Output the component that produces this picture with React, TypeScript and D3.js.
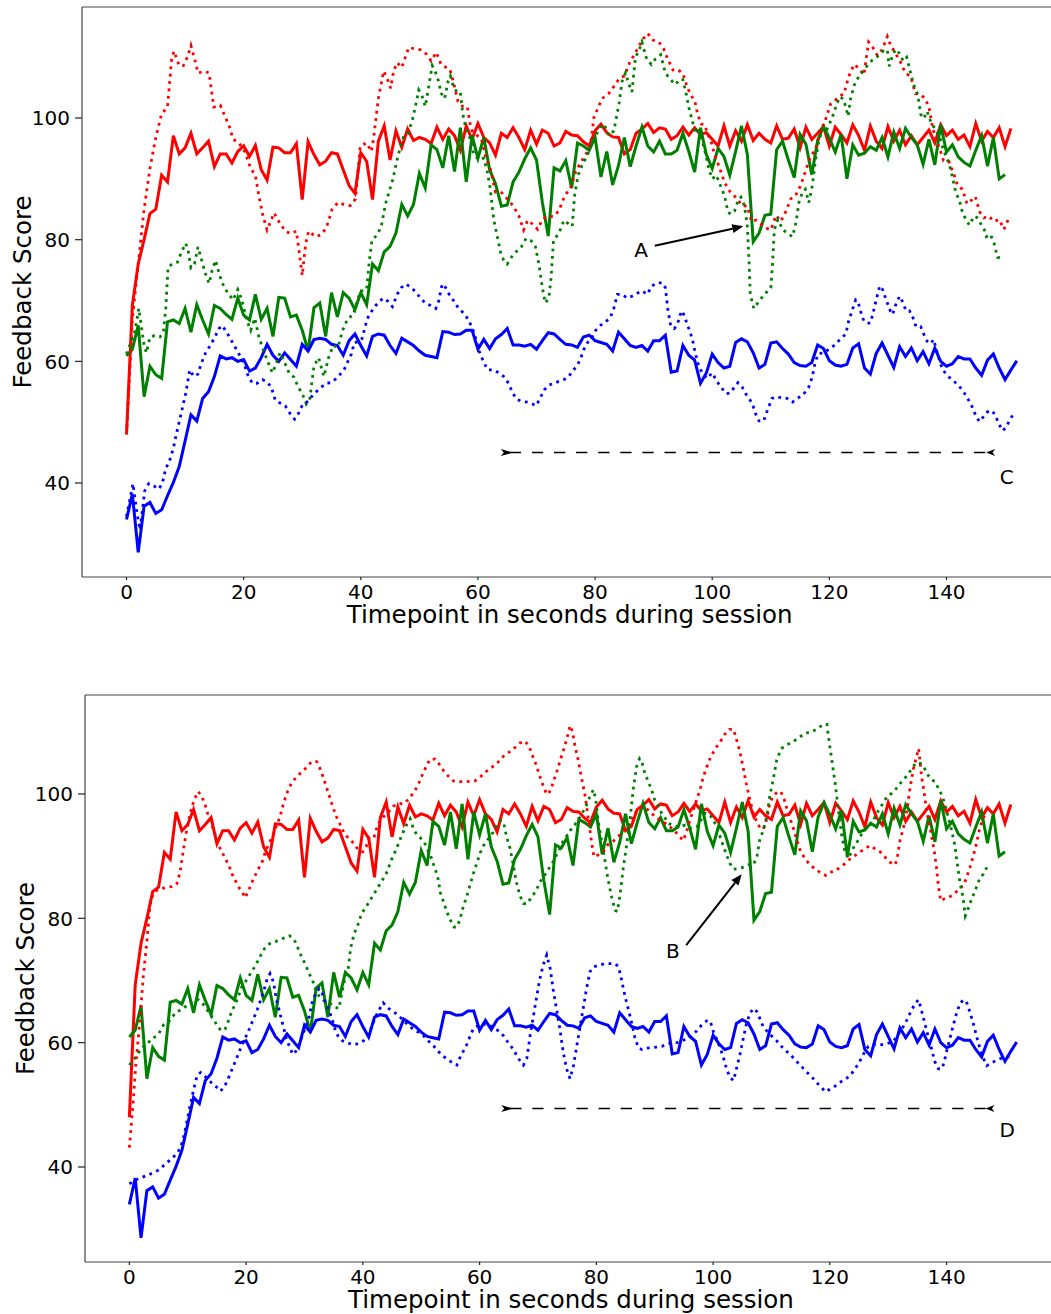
import React from "react";
import * as d3 from "d3";

// ticks and labels
const timeTicks = [0, 20, 40, 60, 80, 100, 120, 140];
const scoreTicks = [40, 60, 80, 100];
const xLabel = "Timepoint in seconds during session";
const yLabel = "Feedback Score";

// solid series, one value per second (same in both panels)
const redSolid = [
  48.0, 69.3, 76.0, 80.0, 84.3, 85.0, 90.6, 89.5, 97.1, 94.1,
  95.1, 97.5, 94.1, 95.1, 96.2, 92.0, 94.1, 94.1, 92.6, 94.5,
  95.4, 93.7, 95.5, 91.5, 89.8, 95.2, 95.1, 94.3, 94.3, 95.8,
  86.6, 96.1, 94.0, 92.3, 92.9, 94.3, 94.1, 91.5, 88.9, 87.6,
  94.3, 92.9, 86.6, 96.2, 98.7, 93.1, 97.9, 95.2, 98.2, 96.3,
  96.8, 96.5, 95.8, 98.5, 96.5, 98.2, 97.1, 94.7, 98.7, 96.5,
  99.1, 96.8, 95.9, 93.9, 97.5, 96.8, 98.4, 96.8, 94.8, 98.0,
  95.7, 98.0, 97.5, 95.4, 95.9, 97.8, 97.2, 97.1, 96.1, 95.4,
  97.9, 99.0, 97.6, 96.9, 96.8, 94.1, 94.8, 97.5, 98.2, 99.1,
  97.6, 98.4, 98.2, 96.5, 97.1, 98.5, 97.2, 98.4, 97.3, 97.6,
  96.5, 95.4, 98.7, 95.4, 97.9, 96.2, 98.9, 96.3, 97.5, 96.5,
  95.9, 98.7, 96.5, 96.7, 98.2, 95.1, 98.5, 96.5, 97.5, 98.6,
  95.4, 98.5, 97.3, 95.9, 98.9, 97.1, 94.7, 98.7, 96.2, 95.0,
  98.6, 96.2, 98.0, 95.6, 97.1, 95.6, 96.8, 98.0, 95.9, 98.9,
  97.1, 98.0, 96.5, 97.2, 95.3, 99.1, 96.2, 97.8, 96.8, 98.4,
  95.3, 98.3,
];

const greenSolid = [
  60.9, 62.0, 65.9, 54.2, 59.2, 57.8, 57.2, 66.5, 66.8, 66.2,
  68.7, 64.8, 69.3, 66.8, 64.5, 69.2, 68.7, 67.7, 66.9, 70.4,
  67.6, 66.8, 71.0, 66.9, 68.7, 64.1, 70.5, 70.4, 67.3, 67.6,
  65.1, 61.7, 68.8, 69.6, 64.1, 71.3, 67.3, 71.3, 70.4, 68.5,
  71.3, 69.3, 76.0, 74.9, 78.0, 78.9, 81.1, 85.8, 83.9, 85.8,
  90.9, 88.5, 95.6, 94.8, 91.8, 97.1, 91.2, 98.4, 89.5, 97.1,
  93.4, 96.8, 91.5, 89.2, 85.5, 85.7, 89.5, 91.1, 93.3, 95.1,
  93.1, 86.1, 80.6, 91.8, 91.3, 93.0, 88.5, 95.9, 95.4, 94.7,
  96.8, 90.3, 94.5, 89.0, 92.2, 96.8, 92.0, 95.4, 98.5, 95.4,
  94.4, 96.2, 94.1, 94.1, 94.7, 97.5, 94.5, 91.1, 98.4, 94.0,
  91.7, 95.0, 93.7, 90.6, 94.5, 98.7, 94.0, 79.7, 81.1, 84.0,
  84.2, 94.8, 96.2, 93.1, 90.2, 97.3, 95.7, 90.7, 96.3, 98.6,
  96.7, 94.4, 97.3, 90.0, 95.6, 93.9, 94.2, 95.3, 94.7, 96.8,
  93.6, 97.7, 95.0, 98.3, 96.8, 95.6, 92.4, 96.5, 92.3, 98.9,
  94.4, 95.6, 93.6, 92.7, 92.1, 94.7, 97.1, 92.1, 96.8, 90.0,
  90.7,
];

const blueSolid = [
  34.0, 38.2, 28.6, 36.2, 36.8, 35.0, 35.6, 37.9, 40.1, 42.7,
  46.9, 51.2, 50.2, 53.9, 55.0, 57.5, 60.9, 60.4, 60.6, 60.0,
  60.3, 58.4, 58.9, 60.6, 62.8, 61.0, 60.0, 61.4, 60.3, 59.2,
  62.8, 61.7, 63.6, 63.8, 63.6, 62.8, 62.6, 61.0, 63.4, 64.5,
  62.6, 60.9, 64.1, 64.5, 64.3, 62.6, 61.3, 63.8, 63.2, 62.6,
  61.7, 61.0, 60.8, 60.6, 64.9, 64.8, 64.4, 64.5, 65.1, 65.1,
  62.0, 63.6, 62.1, 63.7, 64.4, 65.4, 62.7, 62.7, 62.5, 62.8,
  62.0, 63.4, 64.7, 64.5, 63.6, 62.8, 62.7, 62.3, 64.0, 64.3,
  63.4, 63.1, 62.8, 61.7, 64.8, 63.7, 62.6, 62.3, 62.6, 61.7,
  63.4, 63.4, 64.3, 58.2, 58.4, 62.6, 61.0, 60.2, 56.4, 58.1,
  61.2, 59.8, 58.9, 59.2, 63.1, 63.7, 63.2, 61.4, 58.9, 59.5,
  63.0, 63.2, 62.1, 61.2, 59.8, 59.3, 59.2, 59.8, 62.7, 62.1,
  60.1, 59.4, 59.2, 59.5, 62.2, 62.9, 58.9, 57.9, 61.3, 63.0,
  61.0, 59.0, 62.4, 60.8, 62.2, 60.1, 61.6, 59.6, 62.2, 60.0,
  59.2, 59.6, 60.8, 60.4, 60.4, 58.9, 57.7, 60.2, 61.2, 58.9,
  57.0, 58.6, 60.1,
];

// dotted series, [second, score] at the visible vertices
const redDottedTop: [number, number][] = [
  [0, 48], [1, 67], [2, 76], [3, 85], [4, 91.7], [5, 96.8], [6, 100.7], [7, 101.8], [7.7, 109.7], [8.1, 111],
  [9, 108.6], [9.7, 108.6], [10.4, 110], [11, 111.9], [11.8, 109.1], [12.2, 107.4], [13.3, 107.7], [14.1, 107.4],
  [14.9, 101.8], [16, 102.1], [16.9, 100.1], [17.6, 98.5], [18.2, 96.5], [19.2, 95.9], [20.3, 94.3], [21.2, 91.7],
  [22, 90.6], [22.6, 87.2], [23.3, 83.9], [24, 81.6], [25.2, 84.4], [26, 83], [27.1, 81.4], [28, 81], [29, 81.4],
  [29.6, 77.1], [30, 74.1], [30.6, 79.4], [31.1, 81.4], [32.3, 80.5], [33.2, 80.8], [34.1, 81.9], [35.1, 85],
  [36.1, 86.1], [37.1, 85.8], [38.2, 85.6], [39.1, 86.7], [39.9, 95.4], [41, 95.9], [41.8, 94.5], [42.2, 96.8],
  [43, 103.2], [43.9, 107.7], [44.6, 106.3], [45.1, 104.9], [45.6, 107.7], [46.2, 109.1], [47, 108.3], [47.6, 110],
  [48.2, 111.6], [49.1, 111.4], [50.2, 111.2], [51.2, 110.5], [52, 109.4], [52.9, 110.8], [53.7, 108.8], [54.6, 108.3],
  [55.2, 108], [55.8, 106], [56.6, 102.7], [57.5, 101.8], [58.2, 101.8], [58.6, 99.3], [59, 97.9], [59.8, 97.2],
  [60.6, 96.5], [61.3, 93.7], [62.1, 91.7], [63, 87.8], [64.1, 87.7], [65, 86.7], [66, 85.6], [67, 83.9], [67.8, 81.6],
  [68.5, 83.2], [69.4, 82.5], [70.2, 81.7], [71, 83.3], [71.9, 83.9], [72.8, 83.8], [73.8, 84.7], [74.8, 87.2],
  [75.8, 88.5], [76.7, 91.2], [77.5, 92.6], [78.4, 94], [79.2, 95.4], [79.8, 100.1], [81.2, 103.2], [82.4, 104.1],
  [83.3, 105.3], [84.2, 106.6], [85, 106.9], [85.9, 109.1], [86.7, 110.4], [87.6, 112], [88.2, 113], [89, 113.9],
  [89.9, 112.8], [90.9, 112.5], [91.7, 111.4], [92.4, 109.7], [93.3, 107.9], [94.1, 108], [95, 107.3], [95.7, 105.2],
  [96.3, 103.8], [97, 102.9], [97.5, 100.7], [98.1, 99], [98.7, 98.9], [99.3, 97.2], [99.8, 96.2], [100.4, 94],
  [101.3, 91.7], [102.1, 89.4], [103.1, 87.8], [104.3, 86.7], [105.1, 85.6], [106, 85.5], [106.7, 83], [107.5, 83.2],
  [108.4, 82.5], [109.2, 81.9], [110, 81.6], [110.9, 84], [111.7, 83], [112.6, 84.7], [113.4, 86.7], [114.2, 87.2],
  [115.1, 88.9], [115.9, 91.2], [116.8, 93.7], [117.6, 94.8], [118.5, 97.8], [119.3, 99.6], [120.2, 102.3], [121, 102.9],
  [121.6, 103.5], [122.5, 104], [123.3, 106.8], [124.2, 108.8], [125, 108.2], [125.9, 107.1], [126.7, 112.5],
  [127.3, 111.8], [128.2, 110.3], [129, 111.2], [129.9, 113.4], [130.4, 112.1], [131.3, 110.6], [132.1, 109.3],
  [133, 107.4], [133.9, 106.8], [134.7, 104], [135.6, 103.9], [136.4, 103.1], [137, 101.8], [137.6, 98.6],
  [138.1, 96.8], [138.7, 95.3], [139.5, 93], [140.4, 92.9], [141.3, 90.6], [141.9, 88.9], [142.7, 88.3], [143.5, 85.9],
  [144.4, 86.6], [144.9, 87.1], [145.7, 84.5], [146.4, 83.6], [147.2, 83.9], [148.1, 83], [149, 83.3], [149.8, 81.7],
  [150.4, 83], [150.8, 83.9],
];

const greenDottedTop: [number, number][] = [
  [0, 61.2], [1.4, 64.8], [2.1, 68.7], [3, 62.6], [3.4, 61.4], [4, 64], [4.8, 64.2], [5.7, 64], [6.3, 64.8], [6.7, 68.7],
  [7.1, 75.5], [7.8, 76], [8.7, 76.3], [9.3, 77.8], [10.1, 79.4], [10.5, 78.3], [11, 75.4], [11.6, 76], [12.2, 78.8],
  [12.7, 77.1], [13.4, 74.6], [14.1, 72.8], [14.6, 74.9], [15.2, 76.6], [15.9, 74.1], [16.7, 72.1], [17.5, 71],
  [18.2, 70.1], [19, 71.8], [19.7, 70.1], [20.5, 66.8], [21.2, 65.1], [21.9, 67.1], [22.6, 64], [23.3, 62], [24.1, 60],
  [24.9, 58.1], [25.4, 59.2], [26.2, 61.4], [27, 59.8], [27.8, 58], [28.6, 57.4], [29.3, 55.8], [30, 54.7], [30.7, 53],
  [31.3, 53.9], [32, 59.2], [32.8, 60.6], [33.7, 57.5], [34.5, 60.6], [35.3, 62.6], [36.1, 62.3], [36.9, 65.1],
  [37.8, 67.1], [38.7, 67.6], [39.9, 71.5], [41, 71.8], [41.4, 76], [41.9, 79.9], [42.8, 80.8], [43.5, 82.2],
  [44.2, 85.8], [45, 88.4], [45.5, 90], [46.1, 92.8], [46.7, 95], [47.3, 96.9], [48, 97.4], [48.8, 99.6], [49.3, 101.8],
  [49.9, 104.6], [50.5, 103.5], [51, 101.9], [51.6, 105.2], [52.2, 108.6], [52.8, 107.4], [53.3, 106], [53.7, 104.1],
  [54.3, 103.2], [54.9, 106], [55.3, 106.9], [55.9, 104.9], [56.6, 104.1], [57, 104.2], [57.4, 100.7], [57.9, 98.5],
  [58.6, 96.8], [59.3, 94], [60.2, 93.1], [61, 93.4], [61.6, 91.2], [62.1, 88.4], [62.7, 83.3], [63.3, 80.5],
  [63.9, 77.8], [64.4, 76.6], [65, 76], [65.7, 77.1], [66.5, 78], [67.4, 78.8], [68.2, 80.2], [69.1, 79.8], [69.8, 78.9],
  [70.4, 76], [71, 72.1], [71.5, 69.6], [72.1, 70.4], [72.5, 73.8], [72.9, 79.9], [73.8, 81], [74.7, 83.2], [75.5, 82.6],
  [76.1, 82.2], [76.5, 87.2], [77.1, 90.6], [77.8, 92.3], [78.6, 93.7], [79.5, 95.9], [80.2, 97.3], [80.9, 98.5],
  [81.5, 99], [82.4, 97.1], [83.2, 97.9], [84.1, 102.4], [84.6, 106], [85.2, 107.4], [85.8, 105.5], [86.3, 104.3],
  [86.9, 110], [87.5, 111.1], [88, 112.5], [88.8, 109.7], [89.6, 108.8], [90.3, 109.7], [91.2, 110.4], [92, 107.4],
  [92.9, 106.3], [93.7, 105.5], [94.5, 106.4], [95, 106.3], [95.6, 103.8], [96.1, 101.3], [96.6, 99.6], [97.1, 97.4],
  [97.7, 98.5], [98.3, 96.2], [98.9, 94], [99.4, 91.7], [100, 90], [100.7, 90.6], [101.4, 88.9], [102.1, 87.2],
  [102.7, 84.5], [103.2, 84.2], [103.8, 84.7], [104.4, 86.4], [104.9, 87], [105.5, 85.6], [106, 82.2], [106.3, 76],
  [106.5, 71], [107.1, 68.7], [108, 69.9], [108.9, 71], [110, 72.1], [110.3, 76], [110.6, 81.6], [111.2, 83.3],
  [112.1, 81.6], [112.9, 81], [113.7, 80.5], [114.3, 82.8], [114.8, 86.1], [115.4, 87.8], [115.9, 88.3], [116.5, 86.1],
  [117.1, 88.9], [117.6, 92.9], [118.2, 96.2], [118.9, 98.6], [119.6, 98.2], [120.5, 100.1], [121.3, 102.4],
  [121.8, 103.5], [122.4, 103.1], [122.8, 101.8], [123.2, 100.3], [123.6, 103], [124.2, 105.3], [125, 106.8],
  [125.8, 107.7], [126.6, 108.8], [127.3, 109.5], [128.1, 110], [128.7, 110.6], [129.4, 111.2], [129.9, 111.2],
  [130.2, 108.5], [130.7, 110], [131.3, 111.3], [132, 110.6], [132.6, 109.4], [133.2, 110], [133.6, 108.5], [134, 106.8],
  [134.5, 105.2], [135.1, 103.8], [135.6, 100.6], [136.1, 99.9], [136.7, 101.1], [137.3, 99.4], [138.1, 98.1],
  [138.8, 97], [139.3, 95.3], [139.8, 94], [140.5, 92.3], [141, 90.3], [141.6, 87.7], [142.2, 86.5], [142.7, 84.6],
  [143.3, 83.3], [143.9, 82.4], [144.5, 83.5], [145, 83.9], [145.8, 82.7], [146.4, 81.8], [146.8, 80.5], [147.5, 80.9],
  [148.1, 79.5], [148.7, 77.1], [149.3, 77],
];

const blueDottedTop: [number, number][] = [
  [0, 34.5], [0.7, 37.9], [1.1, 39.9], [1.7, 35.6], [2.3, 32.3], [2.8, 36.2], [3.1, 38.7], [3.8, 39.9], [4.7, 39.5],
  [5.5, 39], [6.1, 39.9], [6.7, 42.4], [7.3, 43.5], [8, 45.7], [8.5, 48], [9.3, 51.3], [10.1, 54.7], [10.8, 58.6],
  [11.5, 57.5], [12.2, 57.9], [12.7, 59.5], [13.5, 61.4], [14.3, 62.6], [15.1, 64], [15.8, 65.4], [16.3, 65.9],
  [17.1, 64.8], [17.8, 63.6], [18.4, 62.6], [19.2, 61.2], [20, 59.8], [20.8, 57.5], [21.5, 56.4], [22.3, 56.4],
  [23.2, 57], [23.9, 56.7], [24.7, 55.8], [25.4, 53.6], [26.3, 53.1], [27.1, 52.7], [28, 51.3], [28.7, 50.5],
  [29.4, 51.5], [30.1, 53], [30.8, 53.3], [31.6, 54.2], [32.4, 55], [33.2, 55.7], [34.1, 56.4], [34.9, 56.5],
  [35.7, 57.1], [36.4, 57.8], [37.1, 58.5], [37.8, 60], [38.4, 61.2], [38.9, 63.1], [39.7, 63.2], [40.2, 63.7],
  [41.1, 67], [42.2, 68.8], [43.2, 69.9], [43.9, 70.4], [44.6, 69.9], [45.4, 69], [46.2, 71], [46.9, 72.1], [47.7, 72.7],
  [48.5, 72.2], [49.3, 71.5], [50.2, 70.4], [51, 69.6], [51.9, 69.2], [52.8, 68.7], [53.3, 69.9], [53.9, 72.7],
  [54.5, 72.1], [55.1, 71], [55.9, 69.9], [56.7, 68.7], [57.6, 67.9], [58.4, 66.8], [59.3, 64.8], [60.2, 61.7],
  [61, 59.8], [61.7, 58.6], [62.7, 58.6], [63.6, 58.1], [64.4, 57.5], [65.3, 56.3], [65.9, 54.8], [66.7, 53.7],
  [67.6, 53.4], [68.4, 53.3], [69.3, 53], [69.9, 52.7], [70.5, 53.7], [71.3, 55.3], [72.1, 56.1], [73, 56.4],
  [73.8, 56.7], [74.7, 57], [75.5, 57.5], [76.2, 58.5], [76.9, 59.2], [77.5, 60.4], [78.1, 62], [78.8, 63.2], [79.5, 64],
  [80.1, 65.1], [80.9, 65.9], [81.8, 66.5], [82.6, 67.2], [83.2, 68.7], [83.8, 71], [84.6, 71], [85.5, 70.4],
  [86.3, 70.7], [87.2, 71.2], [88, 71.6], [88.9, 71], [89.7, 72.4], [90.6, 72.9], [91.5, 72.9], [92, 72.1], [92.4, 68.7],
  [92.9, 65.9], [93.5, 65.4], [94, 65.9], [94.5, 67.6], [94.9, 68.3], [95.4, 67], [96, 65.4], [96.6, 63.7], [97.1, 61.4],
  [97.7, 59.2], [98.3, 58.1], [99.1, 57.2], [100, 58.1], [100.8, 56.7], [101.7, 55.5], [102.4, 54.7], [103.1, 54.8],
  [103.8, 55.8], [104.4, 56.5], [105.1, 55.8], [105.7, 54.7], [106.3, 53.9], [106.9, 52.9], [107.4, 51.4], [108, 50.2],
  [108.8, 50.2], [109.4, 51.9], [110.2, 53.9], [111.1, 54.2], [112, 53.9], [112.8, 53.9], [113.7, 53.3], [114.5, 53.9],
  [115.4, 54.4], [115.9, 55], [116.5, 55.8], [117.1, 57.5], [117.6, 60], [118.2, 61.3], [119.1, 61.4], [119.9, 62],
  [120.8, 62.6], [121.6, 63.4], [122.8, 64.5], [123.3, 66.6], [123.9, 68.4], [124.5, 70.1], [124.9, 69.8], [125.3, 68.3],
  [125.9, 66.6], [126.5, 66.3], [127, 66.3], [127.4, 67.7], [128, 70.1], [128.6, 72.4], [129.1, 71.8], [129.7, 70.1],
  [130.4, 68.3], [130.8, 67.7], [131.4, 69.5], [132, 70.7], [132.5, 69.8], [133.1, 68.3], [133.7, 68.3], [134.3, 67.1],
  [134.8, 65.7], [135.6, 65.7], [136.1, 64.5], [136.7, 63.3], [137.3, 62.9], [137.8, 63.6], [138.5, 61.1], [139.3, 58.7],
  [140.1, 57.7], [140.9, 57], [141.8, 56.3], [142.7, 55.3], [143.5, 54.1], [144.4, 52.5], [144.9, 51.3], [145.6, 50.1],
  [146.4, 51], [147, 51.7], [147.8, 51.9], [148.4, 51], [148.9, 49.8], [149.6, 48.6], [150.2, 49.2], [150.8, 50.4],
  [151.5, 51.4],
];

const redDottedBottom: [number, number][] = [
  [0, 43.1], [0.6, 49.8], [1.1, 56.4], [1.7, 62.5], [2.4, 70.8], [3, 76.3], [3.5, 81.9], [4.1, 84.1], [5, 84.7],
  [6.1, 84.9], [7.2, 85.1], [8.1, 85.5], [8.7, 87.4], [9.2, 90.7], [9.8, 94.1], [10.4, 96.8], [11.1, 99.1], [11.8, 100.4],
  [12.4, 99.6], [13, 98.2], [13.5, 96.6], [14.1, 95.2], [14.7, 93.4], [15.2, 91.9], [15.9, 90.6], [16.5, 89.5],
  [17.1, 88.4], [17.6, 87.1], [18.2, 86], [18.8, 84.9], [19.4, 84.1], [19.8, 83.3], [20.4, 84.4], [21, 85.8], [21.6, 87],
  [22.2, 88.1], [22.8, 89.2], [23.3, 90.7], [23.9, 92], [24.5, 93.1], [25.1, 94.6], [25.8, 96.3], [26.4, 98.5],
  [27.1, 100.4], [27.8, 101.8], [28.7, 102.8], [29.5, 103.5], [30.4, 104.3], [31.2, 105.2], [32.1, 105.2], [32.7, 104],
  [33.2, 102.7], [33.8, 101], [34.4, 99.3], [34.9, 97.8], [35.5, 96.3], [36.1, 95.1], [36.9, 93.5], [37.8, 92.7],
  [38.6, 91.9], [39.2, 91], [40, 90.7], [40.5, 91.3], [41.1, 93], [41.9, 93], [42.6, 95.2], [43.5, 96.3], [44.4, 97.1],
  [45.2, 98], [46.1, 98.5], [46.9, 98.4], [47.8, 99.1], [48.6, 100.1], [49.4, 101.3], [50.1, 102.9], [50.8, 104.3],
  [51.5, 105.6], [52.4, 105.6], [53, 104.9], [53.8, 103.8], [54.6, 102.9], [55.5, 102.1], [56.6, 102], [57.9, 102],
  [59.2, 102.1], [60.1, 102.7], [60.9, 103.5], [61.8, 104], [62.6, 104.7], [63.5, 105.4], [64.3, 106.3], [65.2, 106.8],
  [66.1, 107.5], [66.9, 108.2], [67.8, 108.5], [68.5, 107.6], [69, 106.3], [69.6, 104.9], [70.2, 103.2], [70.7, 101.8],
  [71.3, 100.4], [71.7, 99.9], [72.2, 100.7], [72.7, 102.1], [73.3, 103.8], [73.9, 105.7], [74.5, 107.4], [75, 109.1],
  [75.5, 111], [75.9, 110.1], [76.3, 107.9], [76.9, 105.4], [77.5, 102.4], [78.1, 99.6], [78.5, 96.8], [78.9, 94.2],
  [79.2, 92.1], [79.6, 89.9], [80.3, 90.2], [81.2, 90.7], [82, 91.9], [82.9, 92.4], [83.8, 93.2], [84.6, 94.1],
  [85.5, 94.7], [86.3, 96.3], [87.2, 97.8], [88.1, 97.9], [88.9, 97.4], [89.8, 96.6], [90.6, 96], [91.5, 95.5],
  [92.3, 94.9], [93.2, 94.3], [94, 93.4], [94.9, 92.5], [95.5, 94.1], [96, 95.7], [96.6, 97.4], [97.2, 99.1],
  [97.8, 100.8], [98.3, 102.7], [98.9, 104.3], [99.6, 106], [100.4, 107.3], [101.3, 108.5], [102, 109.6], [102.8, 110.4],
  [103.5, 110.4], [104, 108.8], [104.6, 106.8], [105.2, 104], [105.7, 101.6], [106.3, 99.1], [106.9, 96.8], [107.5, 95.5],
  [108, 94.6], [108.6, 94.3], [109.2, 96], [109.7, 98.5], [110.3, 99.7], [111, 100.3], [111.6, 100.4], [112.2, 99.1],
  [112.7, 97.4], [113.3, 95.7], [113.9, 94.1], [114.4, 92.4], [115, 90.7], [115.9, 89.4], [116.7, 88.5], [117.6, 87.9],
  [118.4, 87.3], [119.3, 86.9], [120, 87.4], [120.9, 87.6], [121.7, 88.2], [122.6, 88.8], [123.5, 89.6], [124.3, 90.1],
  [125.2, 90.7], [126, 91.2], [126.9, 91.7], [127.7, 91.2], [128.6, 90.7], [129.4, 89.9], [130.3, 89], [131.2, 88.6],
  [131.6, 90.1], [132, 92.4], [132.6, 94.6], [133.2, 97.3], [133.7, 100.7], [134.3, 104], [134.9, 106.2], [135.2, 107.3],
  [135.4, 105.7], [135.7, 102.9], [136, 101.2], [136.5, 97.9], [136.9, 95.7], [137.4, 93.5], [138, 90.1], [138.3, 87.9],
  [138.6, 85.2], [139, 82.8], [139.7, 83.2], [140.6, 83.5], [141.2, 83.8], [141.7, 84.3], [142.3, 84.9], [142.9, 85.3],
  [143.4, 86.5], [144, 88.2], [144.6, 90.1], [145.2, 92.4], [145.7, 94.6], [146.3, 96.2], [146.7, 96.7],
];

const greenDottedBottom: [number, number][] = [
  [0, 56.4], [0.7, 57.2], [1.4, 58.1], [2.1, 59.2], [3, 59.7], [3.8, 60.6], [4.7, 61.1], [5.2, 61.7], [5.8, 62.8],
  [6.7, 63.3], [7.4, 64.2], [8.1, 65], [9, 65.3], [9.6, 65.8], [10.4, 66.4], [11.2, 66.9], [11.8, 66.9], [12.4, 66.4],
  [13, 65.8], [13.5, 65], [14.1, 64.2], [14.7, 63.3], [15.2, 62.5], [15.8, 61.9], [16.4, 62.2], [17, 63.6], [17.5, 65],
  [18.1, 66.1], [18.7, 67.5], [19.2, 68.9], [19.8, 69.7], [20.4, 70.5], [20.9, 71.4], [21.5, 72.2], [22.1, 73.3],
  [22.7, 74.4], [23.2, 75.2], [23.8, 75.8], [24.4, 76.1], [25.1, 76.3], [25.8, 76.6], [26.7, 76.9], [27.4, 77.2],
  [27.9, 76.9], [28.5, 76.1], [29.1, 74.7], [29.6, 73.6], [30.2, 72.5], [30.8, 71.1], [31.4, 70], [31.9, 68.6],
  [32.5, 67.5], [33.1, 66.9], [33.6, 66.6], [34.2, 66.4], [34.8, 66.1], [35.3, 65.7], [35.9, 65.5], [36.4, 68],
  [36.9, 70.2], [37.5, 71.9], [37.9, 75.2], [38.5, 77.5], [39.1, 78.8], [39.8, 80.8], [40.6, 81.9], [41.5, 83.3],
  [42.4, 84.7], [43.2, 85.9], [44.1, 87.4], [44.9, 89.4], [45.8, 91.3], [46.6, 93.2], [47.4, 94.9], [48.1, 96],
  [48.6, 94.6], [49.2, 93.5], [49.9, 92.9], [50.5, 92.3], [51, 91.2], [51.6, 90.1], [52.2, 88.4], [52.8, 86.8],
  [53.3, 84.1], [53.9, 82.4], [54.5, 80.8], [55, 79.7], [55.6, 78.6], [56.1, 78.6], [56.6, 79.7], [57.2, 81.9],
  [57.8, 83.5], [58.3, 85.2], [58.9, 87.1], [59.5, 88.8], [60.1, 90.5], [60.6, 91.6], [61.2, 92.4], [61.8, 93.2],
  [62.3, 93.8], [62.9, 94.9], [63.5, 95.7], [64.1, 95.5], [64.6, 93.2], [65.2, 91.3], [65.8, 88.5], [66.3, 85.8],
  [66.9, 83.7], [67.5, 82.4], [68.1, 82.3], [68.6, 83], [69.2, 83.8], [69.8, 84.7], [70.3, 85.8], [70.9, 86.6],
  [71.5, 87.4], [72.1, 88.4], [72.6, 89.1], [73.2, 90.2], [73.8, 91.3], [74.3, 92.4], [74.9, 93.2], [75.5, 94.1],
  [76.1, 94.7], [76.6, 95.5], [77.2, 96.3], [77.8, 97.3], [78.3, 98.2], [78.9, 99.6], [79.5, 100.7], [79.9, 99.1],
  [80.3, 95.7], [80.9, 92.4], [81.5, 89.1], [82, 86.3], [82.6, 83.5], [83.2, 81.3], [83.6, 81.1], [84.1, 84.1],
  [84.6, 88], [85.2, 91.9], [85.8, 96.3], [86.3, 100.6], [86.9, 104.4], [87.4, 105.7], [87.8, 105.2], [88.3, 103.3],
  [88.9, 102], [89.5, 100.6], [90, 99], [90.6, 98], [91.2, 96.9], [91.8, 96.1], [92.3, 95.3], [93.2, 94.9], [94.3, 94.7],
  [95.2, 95], [96, 94.5], [97.2, 94.7], [98.6, 96.9], [99.5, 96.6], [100.5, 95], [101.1, 93.4], [101.8, 91.5],
  [102.3, 90.2], [102.9, 88.8], [103.5, 87.9], [104.3, 88], [105.5, 88.3], [106.3, 88.7], [106.9, 88.6], [107.5, 89.9],
  [108, 92.6], [108.6, 94.2], [109.2, 96.4], [109.7, 99.6], [110.3, 102.3], [110.9, 105.5], [111.7, 107.3],
  [112.6, 107.9], [113.7, 108.4], [114.9, 109.2], [115.7, 109.8], [116.6, 109.9], [117.7, 110.4], [118.9, 111.2],
  [119.5, 111.2], [119.7, 109.6], [120.3, 105.7], [120.9, 101.8], [121.4, 97.9], [122, 93.5], [122.6, 90.7],
  [123.2, 89.6], [123.7, 90.7], [124.3, 91.8], [124.9, 92.6], [125.4, 93.5], [126, 94.3], [126.6, 94.8], [127.2, 95.2],
  [127.7, 96.2], [128.3, 97.3], [128.9, 98.2], [129.4, 99], [130, 99.8], [130.6, 100.1], [131.2, 100.7], [131.7, 101.2],
  [132.3, 102], [132.9, 102.6], [133.4, 103.2], [134, 104], [134.6, 104.8], [135.2, 105.1], [135.7, 104.8], [136.3, 104],
  [136.9, 102.9], [137.4, 102.3], [138, 102], [138.6, 100.9], [139.2, 99.8], [139.7, 98.4], [140.3, 96.2], [140.9, 94],
  [141.4, 91.8], [141.8, 89], [142.3, 85.7], [142.8, 83.5], [143.2, 80.4], [143.6, 81.3], [144, 82.4], [144.6, 83.8],
  [145.2, 85.2], [145.7, 86.5], [146.3, 87.1], [146.9, 88.2],
];

const blueDottedBottom: [number, number][] = [
  [0, 37.3], [1.5, 38.1], [3.2, 38.7], [5, 39.5], [6.7, 40.9], [8.1, 42.1], [8.8, 43.2], [9.4, 45.2], [9.9, 47.5],
  [10.5, 50.3], [11.1, 52.8], [11.6, 54.7], [12.2, 55.2], [12.8, 54.7], [13.4, 54.2], [14.1, 53.5], [15, 52.8],
  [15.6, 52.2], [16.2, 52.8], [16.8, 53.9], [17.4, 55.3], [17.9, 56.4], [18.5, 57.8], [19.1, 59.2], [19.6, 60.3],
  [20.2, 61.4], [20.8, 62.8], [21.3, 63.9], [21.9, 65.3], [22.5, 66.9], [23.1, 68.6], [23.6, 70.2], [24.1, 71.1],
  [24.7, 69.7], [25.2, 66.9], [25.8, 64.7], [26.4, 62.5], [26.9, 60.6], [27.5, 59.2], [28, 58.1], [28.5, 58.6],
  [29.1, 59.7], [29.6, 61.1], [30.2, 62.5], [30.8, 64.2], [31.3, 66.4], [31.9, 67.9], [32.5, 68.7], [33.1, 67.8],
  [33.6, 66.4], [34.2, 65.2], [34.8, 63.6], [35.3, 61.9], [35.9, 60.8], [36.5, 60.3], [37.3, 60], [38.2, 59.7],
  [39.2, 59.8], [40.1, 60.3], [40.9, 61.1], [41.8, 63.3], [42.6, 65], [43.5, 66.4], [44.4, 65.5], [45.2, 65],
  [46.1, 64.4], [46.9, 63.6], [47.8, 62.8], [48.6, 62.2], [49.5, 61.7], [50.4, 61.1], [51.2, 60.3], [52.1, 59.5],
  [52.9, 58.6], [53.8, 57.8], [54.6, 57.2], [55.5, 56.7], [56.1, 56.4], [56.6, 57.5], [57.2, 58.6], [57.8, 59.7],
  [58.4, 61.1], [58.9, 62.2], [59.8, 62.8], [60.6, 63], [61.5, 62.8], [62.4, 62.5], [63.2, 61.9], [64.1, 61.1],
  [64.9, 60], [65.8, 58.9], [66.6, 57.5], [67.5, 56.4], [68.1, 57.5], [68.6, 60.8], [69.2, 64.2], [69.8, 67.5],
  [70.3, 70.2], [70.9, 72.5], [71.5, 74.1], [72.1, 71.9], [72.6, 68.6], [73.2, 65.3], [73.8, 61.9], [74.3, 58.6],
  [74.9, 55.8], [75.5, 54.2], [76.1, 56.4], [76.6, 59.2], [77.2, 62.5], [77.8, 65.8], [78.3, 68.6], [78.9, 71.4],
  [79.5, 72.2], [80.6, 72.5], [81.5, 72.7], [82.3, 72.7], [83.2, 72.7], [83.8, 72.2], [84.3, 70.2], [84.9, 67.5],
  [85.5, 65.3], [86.1, 63], [86.6, 60.8], [87.2, 59.2], [87.8, 58.9], [88.6, 59.1], [89.5, 59.2], [90.3, 59.3],
  [91.2, 59.4], [92, 59.7], [92.9, 60], [93.8, 60], [94.6, 60.3], [95.5, 60.6], [96.3, 61.1], [97.2, 61.9], [98, 62.8],
  [98.9, 63.5], [99.5, 63.5], [100, 61.9], [100.6, 60.6], [101.2, 59.2], [101.8, 57.5], [102.3, 55.8], [102.9, 54.4],
  [103.5, 53.9], [104, 55.8], [104.6, 58.1], [105.2, 60.8], [105.7, 63], [106.3, 64.7], [106.9, 65.5], [107.5, 65],
  [108, 63.9], [108.6, 62.5], [109.2, 61.9], [110, 61.1], [110.9, 60.3], [111.7, 59.4], [112.6, 58.6], [113.5, 57.8],
  [114.3, 57], [115.2, 56.1], [116, 55.3], [116.9, 54.5], [117.7, 53.6], [118.6, 52.8], [119.2, 52.1], [120, 52.5],
  [120.9, 53], [121.7, 53.6], [122.6, 54.1], [123.5, 54.7], [124.3, 55.8], [124.9, 56.6], [125.4, 57.5], [126, 58.6],
  [126.6, 59.4], [127.4, 59.7], [128.3, 59.7], [129.2, 59.7], [130, 59.9], [130.9, 60.2], [131.7, 61.3], [132.3, 62.2],
  [132.9, 63], [133.4, 64.1], [134, 65.2], [134.6, 66.3], [135.2, 66.9], [135.7, 65.2], [136.3, 63], [136.9, 60.8],
  [137.4, 59.1], [138, 56.9], [138.6, 55.8], [139.2, 55.8], [139.6, 56.9], [140, 58.6], [140.6, 60.8], [141.2, 63],
  [141.7, 64.7], [142.3, 66.3], [142.9, 66.9], [143.4, 66.6], [144, 64.9], [144.6, 63], [145.2, 60.8], [145.7, 59.1],
  [146.3, 57.5], [146.9, 56.3], [147.4, 56.6], [148, 56.9], [148.6, 57.2], [149.4, 57.5], [150.3, 57.7], [150.9, 57.7],
];

// annotations, in data units
const pointerTop = { label: "A", text: [87.85, 78.3], from: [90.2, 79.0], to: [105.3, 82.2] };
const pointerBottom = { label: "B", text: [93.1, 74.8], from: [95.4, 75.7], to: [104.9, 87.1] };
const spanTop = { label: "C", start: 63.9, end: 148.3, level: 45, text: [150.3, 41.1] };
const spanBottom = { label: "D", start: 63.7, end: 148.2, level: 49.4, text: [150.4, 46.0] };

const FONT = "DejaVu Sans, Liberation Sans, sans-serif";
const RED = "#ff0000";
const GREEN = "#008000";
const BLUE = "#0000ff";

function Panel({ id, frame, yDomain, dotted, pointer, span }) {
  const x = d3.scaleLinear().domain([-7.6, 159.6]).range([frame.left, frame.right]);
  const y = d3.scaleLinear().domain(yDomain).range([frame.bottom, frame.top]);

  const solidLine = d3
    .line<number>()
    .x((d, i) => x(i))
    .y((d) => y(d));
  const pairLine = d3
    .line<[number, number]>()
    .x((d) => x(d[0]))
    .y((d) => y(d[1]));

  const solids = [
    { data: redSolid, color: RED },
    { data: greenSolid, color: GREEN },
    { data: blueSolid, color: BLUE },
  ];

  // pointer arrow (line with a filled head)
  const [fx, fy] = [x(pointer.from[0]), y(pointer.from[1])];
  const [tx, ty] = [x(pointer.to[0]), y(pointer.to[1])];
  const ang = Math.atan2(ty - fy, tx - fx);
  const headLen = 11;
  const headW = 4.5;
  const bx = tx - headLen * Math.cos(ang);
  const by = ty - headLen * Math.sin(ang);
  const head = [
    [tx, ty],
    [bx + headW * Math.sin(ang), by - headW * Math.cos(ang)],
    [bx - headW * Math.sin(ang), by + headW * Math.cos(ang)],
  ];

  // dashed span with inward heads
  const sx0 = x(span.start);
  const sx1 = x(span.end);
  const sy = y(span.level);

  return (
    <g>
      <defs>
        <clipPath id={`clip-${id}`}>
          <rect x={frame.left} y={frame.top} width={frame.right - frame.left} height={frame.bottom - frame.top} />
        </clipPath>
      </defs>

      <g clipPath={`url(#clip-${id})`}>
        {solids.map((s, i) => (
          <path key={i} d={solidLine(s.data)} fill="none" stroke={s.color} strokeWidth={3} strokeLinejoin="miter" />
        ))}
        {dotted.map((s, i) => (
          <path
            key={"d" + i}
            d={pairLine(s.data)}
            fill="none"
            stroke={s.color}
            strokeWidth={2.8}
            strokeDasharray="2.8 4.6"
          />
        ))}
      </g>

      {/* spines */}
      <line x1={frame.left} x2={frame.left} y1={frame.top} y2={frame.bottom} stroke="#444" strokeWidth={1.2} />
      <line x1={frame.left} x2={frame.right} y1={frame.bottom} y2={frame.bottom} stroke="#444" strokeWidth={1.2} />
      <line x1={frame.left} x2={frame.right} y1={frame.top} y2={frame.top} stroke="#444" strokeWidth={1.2} />
      <line x1={frame.right} x2={frame.right} y1={frame.top} y2={frame.bottom} stroke="#444" strokeWidth={1.2} />

      {/* y ticks */}
      {scoreTicks.map((t) => (
        <g key={t} transform={`translate(0,${y(t)})`}>
          <line x1={frame.left - 7} x2={frame.left} stroke="#222" strokeWidth={1.2} />
          <text x={frame.left - 12} dy="0.36em" textAnchor="end" fontSize={20} fontFamily={FONT} fill="#000">
            {t}
          </text>
        </g>
      ))}
      {/* x ticks */}
      {timeTicks.map((t) => (
        <g key={t} transform={`translate(${x(t)},0)`}>
          <line y1={frame.bottom} y2={frame.bottom + 3} stroke="#222" strokeWidth={1.2} />
          <text y={frame.bottom + 22} textAnchor="middle" fontSize={20} fontFamily={FONT} fill="#000">
            {t}
          </text>
        </g>
      ))}

      {/* axis labels */}
      <text
        x={(frame.left + frame.right) / 2 - 2}
        y={frame.bottom + 45.5}
        textAnchor="middle"
        fontSize={24.5}
        fontFamily={FONT}
        fill="#000"
      >
        {xLabel}
      </text>
      <text
        transform={`translate(${frame.left - 51},${(frame.top + frame.bottom) / 2}) rotate(-90)`}
        textAnchor="middle"
        fontSize={24.5}
        fontFamily={FONT}
        fill="#000"
      >
        {yLabel}
      </text>

      {/* pointer annotation */}
      <line x1={fx} y1={fy} x2={bx} y2={by} stroke="#000" strokeWidth={2} />
      <polygon points={head.map((p) => p.join(",")).join(" ")} fill="#000" />
      <text
        x={x(pointer.text[0])}
        y={y(pointer.text[1])}
        dy="0.36em"
        textAnchor="middle"
        fontSize={20}
        fontFamily={FONT}
        fill="#000"
      >
        {pointer.label}
      </text>

      {/* dashed span annotation */}
      <line x1={sx0 + 9} x2={sx1 - 7} y1={sy} y2={sy} stroke="#000" strokeWidth={1.5} strokeDasharray="11.3 10.8" />
      <polygon
        points={`${sx0 + 12},${sy} ${sx0},${sy - 3.5} ${sx0 + 3},${sy} ${sx0},${sy + 3.5}`}
        fill="#000"
      />
      <polygon
        points={`${sx1 - 9},${sy} ${sx1},${sy - 3.5} ${sx1 - 2.5},${sy} ${sx1},${sy + 3.5}`}
        fill="#000"
      />
      <text
        x={x(span.text[0])}
        y={y(span.text[1])}
        dy="0.36em"
        textAnchor="middle"
        fontSize={20}
        fontFamily={FONT}
        fill="#000"
      >
        {span.label}
      </text>
    </g>
  );
}

export default function App() {
  const width = 1051;
  const height = 1314;
  return (
    <div style={{ position: "absolute", left: 0, top: 0, width, height, overflow: "hidden", background: "#fff" }}>
      <svg width={width} height={height} style={{ display: "block" }}>
        <rect width={width} height={height} fill="#fff" />
        <Panel
          id="top"
          frame={{ left: 82, right: 1061.3, top: 7, bottom: 577 }}
          yDomain={[24.55, 118.25]}
          dotted={[
            { data: redDottedTop, color: RED },
            { data: greenDottedTop, color: GREEN },
            { data: blueDottedTop, color: BLUE },
          ]}
          pointer={pointerTop}
          span={spanTop}
        />
        <Panel
          id="bottom"
          frame={{ left: 85, right: 1061, top: 695, bottom: 1262 }}
          yDomain={[24.72, 115.92]}
          dotted={[
            { data: redDottedBottom, color: RED },
            { data: greenDottedBottom, color: GREEN },
            { data: blueDottedBottom, color: BLUE },
          ]}
          pointer={pointerBottom}
          span={spanBottom}
        />
      </svg>
    </div>
  );
}
